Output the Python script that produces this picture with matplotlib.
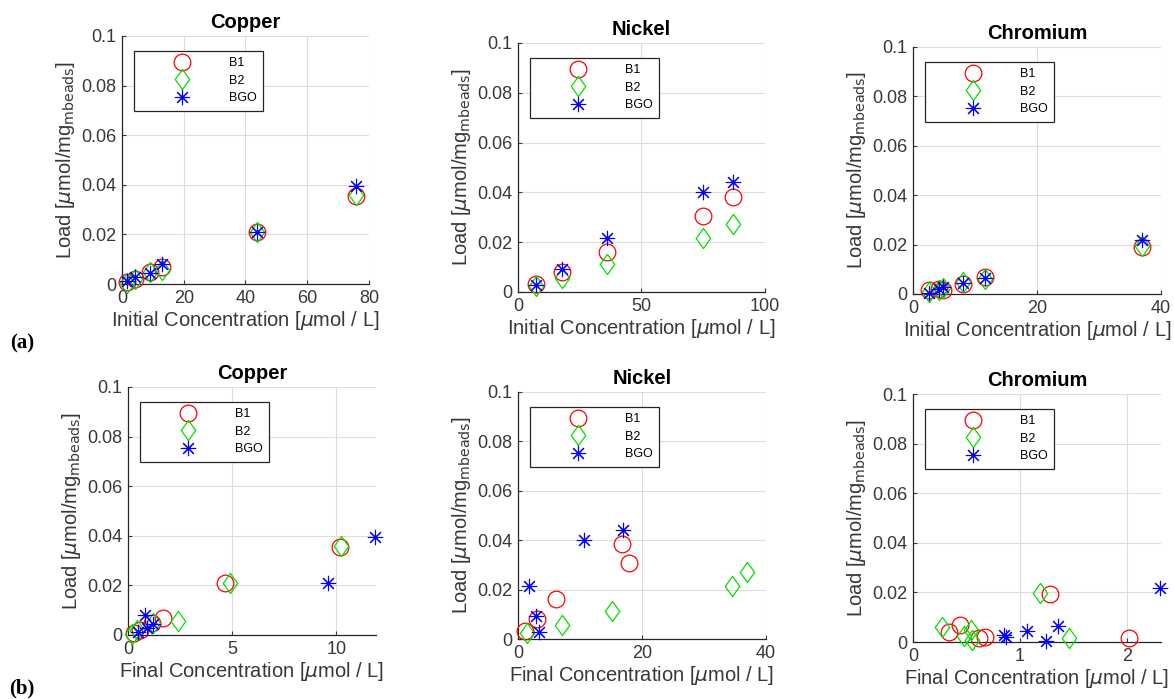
import matplotlib
matplotlib.use('Agg')
import matplotlib.pyplot as plt
import numpy as np
from matplotlib.path import Path

plt.rcParams['font.family'] = ['Liberation Sans', 'DejaVu Sans']

# ---- data ----
# Copper
cu_init = [1.6, 4.3, 9.1, 13.1, 43.6, 75.9]
cu_b1_load = [0.0007, 0.0020, 0.0047, 0.0067, 0.0211, 0.0356]
cu_b2_load = [0.0005, 0.0020, 0.0047, 0.0056, 0.0210, 0.0360]
cu_bgo_load = [0.0013, 0.0027, 0.0044, 0.0081, 0.0211, 0.0397]
cu_b1_final = [0.27, 0.60, 1.15, 1.70, 4.66, 10.16]
cu_b2_final = [0.20, 0.45, 1.20, 2.40, 4.90, 10.24]
cu_bgo_final = [0.50, 0.90, 1.20, 0.83, 9.60, 11.85]

# Nickel
ni_init = [7.3, 17.8, 36.0, 74.8, 87.2]
ni_b1_load = [0.0031, 0.0080, 0.0161, 0.0306, 0.0383]
ni_b2_load = [0.0024, 0.0055, 0.0112, 0.0216, 0.0271]
ni_bgo_load = [0.0027, 0.0094, 0.0215, 0.0400, 0.0440]
ni_b1_final = [1.1, 3.1, 6.2, 17.9, 16.8]
ni_b2_final = [1.45, 7.1, 15.1, 34.6, 37.0]
ni_bgo_final = [3.4, 2.96, 1.8, 10.6, 17.0]

# Chromium
cr_init = [2.5, 4.2, 4.9, 8.0, 11.6, 36.9]
cr_b1_load = [0.0017, 0.0022, 0.0017, 0.0042, 0.0069, 0.0192]
cr_b2_load = [0.0008, 0.0017, 0.0024, 0.0048, 0.0062, 0.0196]
cr_bgo_load = [0.0005, 0.0022, 0.0028, 0.0044, 0.0065, 0.0218]
cr_b1_final = [0.62, 0.67, 2.02, 0.34, 0.44, 1.28]
cr_b2_final = [0.55, 1.46, 0.48, 0.54, 0.27, 1.19]
cr_bgo_final = [1.24, 0.87, 0.855, 1.07, 1.36, 2.31]

series_labels = ['B1', 'B2', 'BGO']
y_ticks = [0, 0.02, 0.04, 0.06, 0.08, 0.1]
y_ticklabels = ['0', '0.02', '0.04', '0.06', '0.08', '0.1']

# MATLAB-like diamond (taller than wide)
diamond = Path([(0, 1), (0.72, 0), (0, -1), (-0.72, 0), (0, 1)],
               [Path.MOVETO, Path.LINETO, Path.LINETO, Path.LINETO, Path.CLOSEPOLY])

styles = [
    dict(marker='o', color='red', markersize=12, mew=0.9),
    dict(marker=diamond, color='#00e000', markersize=14.5, mew=0.9),
    dict(marker=(8, 2, 0), color='blue', markersize=11, mew=0.8),
]

panels = [
    # (position, title, xs per series, loads, xlim, xticks, xlabel)
    ([0.1039, 0.5937, 0.2104, 0.3548], 'Copper', [cu_init] * 3,
     [cu_b1_load, cu_b2_load, cu_bgo_load], (0, 80), [0, 20, 40, 60, 80], 'Initial'),
    ([0.4412, 0.5823, 0.2104, 0.3562], 'Nickel', [ni_init] * 3,
     [ni_b1_load, ni_b2_load, ni_bgo_load], (0, 100), [0, 50, 100], 'Initial'),
    ([0.7777, 0.5794, 0.2112, 0.3534], 'Chromium', [cr_init] * 3,
     [cr_b1_load, cr_b2_load, cr_bgo_load], (0, 40), [0, 20, 40], 'Initial'),
    ([0.1090, 0.0916, 0.2112, 0.3548], 'Copper', [cu_b1_final, cu_b2_final, cu_bgo_final],
     [cu_b1_load, cu_b2_load, cu_bgo_load], (0, 11.9), [0, 5, 10], 'Final'),
    ([0.4412, 0.0858, 0.2112, 0.3534], 'Nickel', [ni_b1_final, ni_b2_final, ni_bgo_final],
     [ni_b1_load, ni_b2_load, ni_bgo_load], (0, 40), [0, 20, 40], 'Final'),
    ([0.7777, 0.0815, 0.2112, 0.3548], 'Chromium', [cr_b1_final, cr_b2_final, cr_bgo_final],
     [cr_b1_load, cr_b2_load, cr_bgo_load], (0, 2.32), [0, 1, 2], 'Final'),
]

fig = plt.figure(figsize=(11.74, 6.99), dpi=100)
txt_col = '#383838'

for pos, title, xs, loads, xlim, xticks, kind in panels:
    ax = fig.add_axes(pos)
    for x, y, lab, st in zip(xs, loads, series_labels, styles):
        ax.plot(x, y, linestyle='none', marker=st['marker'], markersize=st['markersize'],
                markerfacecolor='none', markeredgecolor=st['color'], markeredgewidth=st['mew'],
                label=lab, clip_on=False, zorder=3)
    ax.set_xlim(*xlim)
    ax.set_ylim(0, 0.1)
    ax.set_xticks(xticks)
    ax.set_yticks(y_ticks)
    ax.set_yticklabels(y_ticklabels)
    ax.grid(True, color='#dddddd', linewidth=0.8)
    ax.set_axisbelow(True)
    for s in ['top', 'right']:
        ax.spines[s].set_visible(False)
    for s in ['left', 'bottom']:
        ax.spines[s].set_color('#262626')
        ax.spines[s].set_linewidth(0.9)
    ax.tick_params(direction='in', length=3, labelsize=13, colors=txt_col, pad=4)
    ax.set_title(title, fontsize=14.5, fontweight='bold', pad=6)
    ax.set_xlabel(kind + r' Concentration [$\mu$mol / L]', fontsize=14.5, color=txt_col, labelpad=2)
    ax.set_ylabel(r'Load [$\mu$mol/mg$_{\mathrm{mbeads}}$]', fontsize=14.5, color=txt_col, labelpad=3)
    leg = ax.legend(loc='upper left', bbox_to_anchor=(0.049, 0.94), borderaxespad=0,
                    fontsize=9, handlelength=6.7, handletextpad=0.4, labelspacing=0.45,
                    borderpad=0.5, fancybox=False, framealpha=1, edgecolor='#262626')
    leg.get_frame().set_linewidth(0.9)

fig.text(22 / 1174, 1 - 343 / 699, '(a)', fontsize=15, fontweight='bold',
         family='Liberation Serif', ha='center', va='center')
fig.text(22 / 1174, 1 - 688 / 699, '(b)', fontsize=15, fontweight='bold',
         family='Liberation Serif', ha='center', va='center')

fig.savefig('out.png', dpi=100)
